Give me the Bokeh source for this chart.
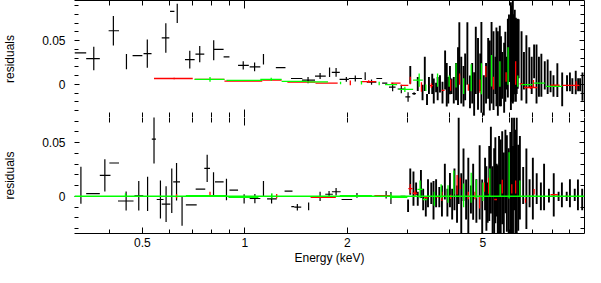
import numpy as np
from bokeh.plotting import figure
from bokeh.models import (Range1d, FixedTicker, LinearAxis, Span, ColumnDataSource,
                          CustomJSTickFormatter, Grid)
from bokeh.layouts import column
from bokeh.embed import file_html
from bokeh.resources import INLINE

# ---------------- data ----------------
x_tick_labels = [0.5, 1, 2, 5]
x_minor = [0.4, 0.6, 0.7, 0.8, 0.9, 3, 4, 6, 7, 8, 9]
x_long = [1, 10]
y_tick_labels = [0, 0.05]
y_minor = [-0.04, -0.03, -0.02, -0.01, 0.01, 0.02, 0.03, 0.04, 0.06, 0.07, 0.08, 0.09]

# --- top panel, black (energy, e_low, e_high, residual, error)
top_blk_e   = [0.329, 0.360, 0.411, 0.449, 0.484, 0.517, 0.586, 0.612, 0.633, 0.689, 0.737, 0.810, 0.838, 0.883, 0.989, 1.068, 1.134, 1.274, 1.420, 1.533, 1.663, 1.773, 1.853, 1.986, 2.110, 2.256, 2.355, 2.480, 2.575, 2.716, 2.880, 3.015, 3.140]
top_blk_lo  = [0.316, 0.342, 0.398, 0.449, 0.468, 0.504, 0.570, 0.603, 0.633, 0.667, 0.716, 0.810, 0.811, 0.866, 0.955, 1.033, 1.134, 1.233, 1.366, 1.471, 1.607, 1.773, 1.800, 1.897, 2.020, 2.256, 2.280, 2.433, 2.530, 2.650, 2.810, 2.960, 3.100]
top_blk_hi  = [0.342, 0.375, 0.427, 0.449, 0.500, 0.532, 0.600, 0.621, 0.633, 0.712, 0.760, 0.810, 0.866, 0.901, 1.027, 1.110, 1.134, 1.316, 1.475, 1.607, 1.728, 1.773, 1.900, 2.020, 2.207, 2.256, 2.433, 2.530, 2.620, 2.770, 2.960, 3.060, 3.180]
top_blk_v   = [0.0359, 0.0294, 0.0612, 0.0259, 0.0327, 0.0351, 0.0530, 0.0833, 0.0812, 0.0281, 0.0345, 0.0388, 0.0398, 0.0313, 0.0216, 0.0198, 0.0286, 0.0191, 0.0066, 0.0048, 0.0094, 0.0137, 0.0137, 0.0056, 0.0066, 0.0093, 0.0024, 0.0066, 0.0013, -0.0032, -0.0054, -0.0145, -0.0107]
top_blk_err = [0.0, 0.0134, 0.0169, 0.0086, 0.0, 0.0161, 0.0169, 0.0, 0.0110, 0.0102, 0.0094, 0.0114, 0.0, 0.0, 0.0048, 0.0050, 0.0059, 0.0, 0.0, 0.0035, 0.0035, 0.0054, 0.0050, 0.0027, 0.0035, 0.0045, 0.0030, 0.0, 0.0, 0.0048, 0.0048, 0.0054, 0.0016]

# top panel, black, densely binned high-energy channels (energy, residual, error)
top_hx_e = [3.060, 3.219, 3.325, 3.376, 3.427, 3.472, 3.550, 3.587, 3.644, 3.683, 3.741, 3.805, 3.873, 3.916, 3.957, 4.002, 4.046, 4.107, 4.170, 4.226, 4.264, 4.320, 4.386, 4.435, 4.502, 4.582, 4.652, 4.713, 4.766, 4.838, 4.911, 4.950, 5.032, 5.108,
            5.182, 5.240, 5.302, 5.372, 5.443, 5.480, 5.533, 5.606, 5.650, 5.698, 5.773, 5.820, 5.868, 5.920, 5.965, 6.043, 6.080, 6.123, 6.160, 6.203, 6.250, 6.285, 6.330, 6.368,
            6.494, 6.601, 6.710, 6.843, 6.955, 7.070, 7.186, 7.305, 7.425, 7.598, 7.748, 7.902, 8.059, 8.273, 8.548, 8.832, 9.007, 9.156, 9.368, 9.522, 9.648, 9.806]
top_hx_v = [0.0107, 0.0003, -0.0095, 0.0119, -0.0175, -0.0014, 0.0004, -0.0077, -0.0037, -0.0050, 0.0004, -0.0095, 0.0164, -0.0005, -0.0068, 0.0048, -0.0023, -0.0068, 0.0030, 0.0093, 0.0405, 0.0048, -0.0023, 0.0084, 0.0352, -0.0086, 0.0012, -0.0111, 0.0273, 0.0119, 0.0137, 0.0193, -0.0128, 0.0012,
            0.0182, 0.0100, 0.0246, 0.0155, 0.0102, 0.0200, 0.0123, 0.0209, 0.0150, 0.0102, 0.0075, 0.0200, 0.0128, 0.0300, 0.0412, 0.0321, 0.0350, 0.0369, 0.0300, 0.0369, 0.0280, 0.0316, 0.0350, 0.0407,
            0.0209, 0.0155, 0.0171, 0.0193, 0.0102, 0.0262, 0.0118, 0.0086, 0.0102, 0.0102, 0.0086, 0.0032, -0.0021, 0.0048, -0.0059, 0.0011, 0.0027, -0.0021, 0.0021, -0.0005, -0.0005, -0.0027]
top_hx_err = [0.0102, 0.0080, 0.0089, 0.0196, 0.0063, 0.0098, 0.0116, 0.0143, 0.0054, 0.0134, 0.0098, 0.0125, 0.0223, 0.0249, 0.0152, 0.0161, 0.0089, 0.0152, 0.0214, 0.0330, 0.0304, 0.0268, 0.0232, 0.0268, 0.0357, 0.0187, 0.0232, 0.0248, 0.0385, 0.0411, 0.0214, 0.0519, 0.0230, 0.0232,
              0.0348, 0.0400, 0.0466, 0.0450, 0.0214, 0.0450, 0.0482, 0.0460, 0.0400, 0.0268, 0.0401, 0.0400, 0.0187, 0.0450, 0.0385, 0.0616, 0.0550, 0.0589, 0.0500, 0.0482, 0.0480, 0.0428, 0.0400, 0.0337,
              0.0396, 0.0214, 0.0391, 0.0230, 0.0214, 0.0193, 0.0337, 0.0230, 0.0246, 0.0161, 0.0198, 0.0123, 0.0123, 0.0193, 0.0193, 0.0091, 0.0107, 0.0091, 0.0134, 0.0075, 0.0075, 0.0161]

# top panel, red
top_red_e   = [0.620, 0.780, 0.990, 1.200, 1.460, 1.740, 2.040, 2.310, 2.770, 2.940, 3.060, 3.300, 3.530, 3.820, 4.020, 4.270, 4.530, 4.900, 5.100, 5.370, 5.850, 6.240, 6.490, 6.900, 7.040, 8.150, 9.050, 9.400]
top_red_lo  = [0.541, 0.712, 0.871, 1.125, 1.333, 1.612, 2.040, 2.190, 2.685, 2.866, 3.060, 3.300, 3.490, 3.780, 4.020, 4.270, 4.530, 4.900, 5.100, 5.370, 5.850, 6.240, 6.410, 6.600, 7.040, 7.900, 8.550, 9.400]
top_red_hi  = [0.703, 0.871, 1.125, 1.282, 1.612, 1.873, 2.040, 2.430, 2.866, 3.020, 3.060, 3.300, 3.570, 3.860, 4.020, 4.270, 4.530, 4.900, 5.100, 5.370, 5.850, 6.240, 6.570, 7.230, 7.040, 8.400, 9.600, 9.400]
top_red_v   = [0.0066, 0.0056, 0.0037, 0.0048, 0.0024, 0.0013, 0.0016, 0.0030, 0.0013, -0.0013, 0.0043, -0.0032, -0.0016, -0.0070, -0.0010, 0.0059, -0.0037, -0.0021, 0.0145, 0.0013, 0.0084, 0.0128, 0.0005, -0.0037, 0.0005, -0.0011, -0.0013, -0.0013]
top_red_err = [0.0010, 0.0, 0.0, 0.0, 0.0, 0.0, 0.0027, 0.0016, 0.0, 0.0, 0.0043, 0.0054, 0.0027, 0.0, 0.0064, 0.0064, 0.0037, 0.0075, 0.0064, 0.0072, 0.0054, 0.0134, 0.0, 0.0016, 0.0045, 0.0, 0.0, 0.0048]

# top panel, green
top_grn_e   = [0.790, 1.000, 1.195, 1.400, 1.635, 1.910, 2.200, 2.480, 2.690, 2.950, 3.250, 3.400, 3.680, 3.980, 4.170, 4.390, 4.620, 4.950, 5.300, 5.610, 5.930, 6.330, 6.750, 7.300, 8.150]
top_grn_lo  = [0.712, 0.883, 1.110, 1.282, 1.520, 1.910, 2.200, 2.480, 2.580, 2.830, 3.120, 3.400, 3.680, 3.980, 4.170, 4.390, 4.620, 4.950, 5.300, 5.610, 5.930, 6.330, 6.490, 7.040, 7.650]
top_grn_hi  = [0.871, 1.125, 1.282, 1.520, 1.755, 1.910, 2.200, 2.480, 2.800, 3.120, 3.330, 3.400, 3.680, 3.980, 4.170, 4.390, 4.620, 4.950, 5.300, 5.610, 5.930, 6.330, 7.000, 7.600, 8.550]
top_grn_v   = [0.0056, 0.0045, 0.0056, 0.0032, 0.0027, 0.0015, 0.0016, 0.0010, -0.0005, -0.0059, 0.0048, -0.0040, 0.0048, 0.0037, 0.0102, -0.0021, 0.0075, 0.0064, 0.0155, 0.0118, 0.0209, 0.0037, -0.0005, 0.0013, -0.0024]
top_grn_err = [0.0027, 0.0, 0.0020, 0.0, 0.0, 0.0015, 0.0020, 0.0020, 0.0, 0.0030, 0.0075, 0.0037, 0.0075, 0.0064, 0.0139, 0.0091, 0.0155, 0.0177, 0.0180, 0.0145, 0.0214, 0.0064, 0.0, 0.0, 0.0]

# --- bottom panel, black
bot_blk_e   = [0.330, 0.357, 0.388, 0.413, 0.448, 0.488, 0.518, 0.541, 0.565, 0.587, 0.610, 0.630, 0.654, 0.692, 0.740, 0.775, 0.809, 0.841, 0.883, 0.927, 0.995, 1.070, 1.134, 1.198, 1.342, 1.382, 1.426, 1.539, 1.663, 1.767, 1.853, 1.994, 2.134, 2.599, 2.685, 2.914]
bot_blk_lo  = [0.330, 0.342, 0.375, 0.400, 0.424, 0.474, 0.518, 0.533, 0.551, 0.570, 0.610, 0.616, 0.654, 0.671, 0.717, 0.760, 0.809, 0.817, 0.883, 0.901, 0.995, 1.033, 1.134, 1.162, 1.308, 1.369, 1.397, 1.539, 1.663, 1.722, 1.801, 1.923, 2.134, 2.599, 2.685, 2.866]
bot_blk_hi  = [0.330, 0.375, 0.403, 0.427, 0.471, 0.503, 0.518, 0.548, 0.577, 0.604, 0.610, 0.645, 0.654, 0.722, 0.765, 0.790, 0.809, 0.866, 0.883, 0.955, 0.995, 1.110, 1.134, 1.241, 1.380, 1.397, 1.464, 1.539, 1.663, 1.813, 1.911, 2.066, 2.134, 2.599, 2.685, 2.962]
bot_blk_v   = [0.0104, 0.0026, 0.0196, 0.0311, -0.0043, 0.0006, 0.0023, 0.0534, -0.0029, -0.0072, 0.0052, 0.0136, -0.0137, -0.0080, 0.0067, 0.0260, 0.0112, 0.0136, 0.0065, 0.0058, -0.0023, -0.0020, 0.0072, -0.0023, 0.0049, -0.0095, -0.0101, -0.0094, 0.0000, 0.0020, 0.0043, -0.0029, 0.0009, 0.0015, -0.0015, 0.0000]
bot_blk_err = [0.0173, 0.0, 0.0151, 0.0, 0.0089, 0.0137, 0.0159, 0.0228, 0.0177, 0.0167, 0.0208, 0.0175, 0.0137, 0.0, 0.0, 0.0127, 0.0112, 0.0, 0.0100, 0.0, 0.0043, 0.0043, 0.0072, 0.0043, 0.0, 0.0, 0.0030, 0.0036, 0.0043, 0.0030, 0.0035, 0.0, 0.0022, 0.0035, 0.0055, 0.0]

bot_hx_e = [3.015, 3.060, 3.127, 3.183, 3.219, 3.289, 3.339, 3.399, 3.450, 3.527, 3.581, 3.644, 3.724, 3.791, 3.866, 3.933, 4.002, 4.062, 4.126, 4.198, 4.245, 4.320, 4.386, 4.464, 4.531, 4.612, 4.682, 4.785, 4.892, 4.977,
            5.075, 5.120, 5.165, 5.220, 5.278, 5.340, 5.397, 5.440, 5.490, 5.530, 5.577, 5.640, 5.698, 5.760, 5.822, 5.880, 5.953, 6.020, 6.083, 6.130, 6.174, 6.230, 6.285, 6.350, 6.422,
            6.566, 6.710, 6.857, 7.010, 7.195, 7.401, 7.563, 7.816, 8.074, 8.343, 8.531, 8.814, 9.007, 9.306, 9.509, 9.786]
bot_hx_v = [-0.0087, 0.0137, 0.0072, 0.0072, -0.0022, 0.0115, -0.0029, -0.0101, 0.0029, 0.0029, -0.0036, 0.0029, -0.0007, -0.0043, 0.0137, -0.0058, 0.0058, -0.0072, 0.0065, -0.0072, 0.0332, -0.0065, 0.0202, -0.0029, 0.0007, -0.0029, 0.0043, -0.0043, 0.0130, -0.0094,
            0.0115, -0.0020, -0.0058, 0.0120, 0.0245, -0.0040, 0.0051, 0.0150, 0.0058, -0.0060, 0.0108, 0.0080, 0.0173, 0.0010, 0.0231, 0.0120, 0.0051, 0.0100, 0.0195, 0.0020, 0.0303, 0.0120, 0.0195, 0.0080, 0.0173,
            0.0101, 0.0072, 0.0029, 0.0072, 0.0072, 0.0000, 0.0087, 0.0007, 0.0014, 0.0000, 0.0014, 0.0000, 0.0029, 0.0014, 0.0014, -0.0029]
bot_hx_err = [0.0058, 0.0122, 0.0159, 0.0058, 0.0065, 0.0130, 0.0101, 0.0087, 0.0130, 0.0101, 0.0180, 0.0130, 0.0094, 0.0144, 0.0166, 0.0130, 0.0159, 0.0144, 0.0195, 0.0173, 0.0404, 0.0281, 0.0245, 0.0187, 0.0353, 0.0130, 0.0260, 0.0202, 0.0346, 0.0252,
              0.0245, 0.0300, 0.0187, 0.0350, 0.0404, 0.0320, 0.0397, 0.0400, 0.0245, 0.0350, 0.0454, 0.0450, 0.0433, 0.0400, 0.0389, 0.0450, 0.0397, 0.0500, 0.0541, 0.0450, 0.0433, 0.0500, 0.0541, 0.0400, 0.0389,
              0.0173, 0.0375, 0.0130, 0.0288, 0.0144, 0.0130, 0.0216, 0.0065, 0.0202, 0.0043, 0.0115, 0.0043, 0.0130, 0.0058, 0.0144, 0.0101]

# bottom panel, red
bot_red_e   = [0.630, 0.790, 1.240, 1.700, 2.540, 3.060, 3.160, 3.400, 3.680, 3.790, 4.020, 4.200, 4.290, 4.530, 4.740, 4.890, 5.050, 5.200, 5.450, 5.700, 6.080, 6.240, 6.670, 7.070, 8.100, 8.800]
bot_red_lo  = [0.630, 0.790, 1.240, 1.560, 2.400, 3.020, 3.110, 3.360, 3.640, 3.790, 4.020, 4.200, 4.290, 4.530, 4.740, 4.890, 5.050, 5.200, 5.400, 5.700, 6.080, 6.240, 6.670, 7.070, 7.900, 8.700]
bot_red_hi  = [0.630, 0.790, 1.240, 1.850, 2.685, 3.110, 3.210, 3.440, 3.720, 3.790, 4.020, 4.200, 4.290, 4.530, 4.740, 4.890, 5.050, 5.200, 5.500, 5.700, 6.080, 6.240, 6.670, 7.070, 8.300, 8.900]
bot_red_v   = [0.0003, 0.0022, 0.0003, -0.0009, 0.0006, 0.0072, 0.0029, -0.0013, -0.0004, 0.0000, -0.0004, 0.0108, 0.0121, 0.0009, 0.0009, -0.0052, 0.0087, 0.0099, -0.0029, 0.0091, 0.0069, 0.0087, -0.0040, 0.0043, 0.0015, 0.0000]
bot_red_err = [0.0020, 0.0022, 0.0020, 0.0, 0.0, 0.0043, 0.0025, 0.0, 0.0, 0.0043, 0.0020, 0.0091, 0.0052, 0.0035, 0.0035, 0.0060, 0.0043, 0.0074, 0.0, 0.0065, 0.0043, 0.0060, 0.0020, 0.0026, 0.0, 0.0]

# bottom panel, green
bot_grn_e   = [0.446, 0.770, 0.990, 1.200, 2.120, 2.840, 2.685, 3.270, 3.380, 3.600, 3.770, 3.950, 4.110, 4.390, 4.620, 4.780, 5.000, 5.240, 5.620, 5.970, 6.420, 6.850]
bot_grn_lo  = [0.446, 0.671, 0.895, 1.200, 1.900, 2.685, 2.685, 3.210, 3.330, 3.600, 3.770, 3.950, 4.110, 4.390, 4.620, 4.780, 5.000, 5.240, 5.620, 5.970, 6.420, 6.700]
bot_grn_hi  = [0.446, 0.883, 1.096, 1.200, 2.360, 3.000, 2.685, 3.330, 3.430, 3.600, 3.770, 3.950, 4.110, 4.390, 4.620, 4.780, 5.000, 5.240, 5.620, 5.970, 6.420, 7.000]
bot_grn_v   = [0.0014, 0.0006, -0.0009, 0.0005, 0.0006, -0.0009, 0.0000, 0.0065, -0.0029, -0.0022, 0.0048, 0.0022, 0.0130, 0.0009, 0.0080, 0.0069, 0.0043, 0.0130, 0.0056, 0.0195, 0.0074, 0.0000]
bot_grn_err = [0.0014, 0.0, 0.0, 0.0025, 0.0, 0.0, 0.0026, 0.0082, 0.0, 0.0065, 0.0065, 0.0082, 0.0112, 0.0110, 0.0140, 0.0087, 0.0087, 0.0130, 0.0056, 0.0216, 0.0074, 0.0]

x_limits = (0.316, 9.94)
top_ylim = (-0.038, 0.0958)
bot_ylim = (-0.0346, 0.0735)

# ---------------- styling / layout ----------------
FONT = "Liberation Sans"
W = 585
LEFT = 73
PANEL_H = 117
BOTTOM = 33
BLACK, RED, GREEN = "#000000", "#ff0000", "#00ff00"

x_range = Range1d(*x_limits)

blank = CustomJSTickFormatter(code="return '';")
plain = CustomJSTickFormatter(code="return tick.toString();")


def style_axis(ax, line, labels, major_in, minor_in):
    ax.axis_line_color = BLACK if line else None
    ax.axis_line_width = 1
    ax.major_tick_in = major_in
    ax.major_tick_out = 0
    ax.minor_tick_in = minor_in
    ax.minor_tick_out = 0
    ax.major_tick_line_color = BLACK
    ax.minor_tick_line_color = BLACK
    if labels:
        ax.formatter = plain
        ax.major_label_text_font = FONT
        ax.major_label_text_font_size = "12px"
        ax.major_label_text_color = BLACK
    else:
        ax.formatter = blank
        ax.major_label_text_font_size = "0px"
        ax.major_label_standoff = 0
    ax.axis_label_text_font = FONT
    ax.axis_label_text_font_size = "12px"
    ax.axis_label_text_font_style = "normal"
    ax.axis_label_text_color = BLACK


def panel(height, ylim, bottom_border, is_bottom):
    p = figure(width=W, height=height, x_axis_type="log", x_range=x_range,
               y_range=Range1d(*ylim), output_backend="svg", toolbar_location=None,
               x_axis_location=None, y_axis_location=None,
               min_border_left=LEFT, min_border_right=1, min_border_top=0,
               min_border_bottom=bottom_border)
    p.outline_line_color = None
    p.background_fill_color = "white"
    p.border_fill_color = "white"
    for g in p.select(type=Grid):
        g.visible = False

    yl = LinearAxis(ticker=FixedTicker(ticks=y_tick_labels, minor_ticks=y_minor),
                    axis_label="residuals")
    style_axis(yl, False, True, 5, 4)
    yl.major_label_standoff = 9
    yl.axis_label_standoff = 22
    p.add_layout(yl, "left")

    yr = LinearAxis(ticker=FixedTicker(ticks=y_tick_labels, minor_ticks=y_minor))
    style_axis(yr, True, False, 5, 4)
    p.add_layout(yr, "right")

    xt = LinearAxis(ticker=FixedTicker(ticks=x_long, minor_ticks=x_minor + [0.5, 2, 5]))
    style_axis(xt, not is_bottom, False, 8, 5)
    p.add_layout(xt, "above")

    if is_bottom:
        xb = LinearAxis(ticker=FixedTicker(ticks=x_tick_labels, minor_ticks=x_minor),
                        axis_label="Energy (keV)")
        style_axis(xb, True, True, 6, 4)
        xb.major_label_standoff = 4
        xb.axis_label_standoff = 1
    else:
        xb = LinearAxis(ticker=FixedTicker(ticks=x_long, minor_ticks=x_minor + [0.5, 2, 5]))
        style_axis(xb, False, False, 8, 5)
    p.add_layout(xb, "below")
    return p


def errbars(p, e, lo, hi, v, err, color, width):
    e, lo, hi, v, err = map(np.asarray, (e, lo, hi, v, err))
    src = ColumnDataSource(dict(e=e, lo=lo, hi=hi, v=v, y0=v - err, y1=v + err))
    p.segment(x0="lo", y0="v", x1="hi", y1="v", source=src, line_color=color, line_width=width)
    p.segment(x0="e", y0="y0", x1="e", y1="y1", source=src, line_color=color, line_width=width)


def vbars(p, e, v, err, color, width):
    e, v, err = map(np.asarray, (e, v, err))
    src = ColumnDataSource(dict(e=e, y0=v - err, y1=v + err))
    p.segment(x0="e", y0="y0", x1="e", y1="y1", source=src, line_color=color, line_width=width)


top = panel(PANEL_H, top_ylim, 0, False)
errbars(top, top_blk_e, top_blk_lo, top_blk_hi, top_blk_v, top_blk_err, BLACK, 1.2)
vbars(top, top_hx_e, top_hx_v, top_hx_err, BLACK, 1.9)
errbars(top, top_red_e, top_red_lo, top_red_hi, top_red_v, top_red_err, RED, 1.3)
errbars(top, top_grn_e, top_grn_lo, top_grn_hi, top_grn_v, top_grn_err, GREEN, 1.3)

bot = panel(PANEL_H + BOTTOM, bot_ylim, BOTTOM, True)
errbars(bot, bot_blk_e, bot_blk_lo, bot_blk_hi, bot_blk_v, bot_blk_err, BLACK, 1.2)
vbars(bot, bot_hx_e, bot_hx_v, bot_hx_err, BLACK, 1.9)
errbars(bot, bot_red_e, bot_red_lo, bot_red_hi, bot_red_v, bot_red_err, RED, 1.3)
bot.add_layout(Span(location=0, dimension="width", line_color=GREEN, line_width=1.5))
errbars(bot, bot_grn_e, bot_grn_lo, bot_grn_hi, bot_grn_v, bot_grn_err, GREEN, 1.3)

layout = column(top, bot, spacing=0)

open("out.html", "w").write(file_html(layout, INLINE))
